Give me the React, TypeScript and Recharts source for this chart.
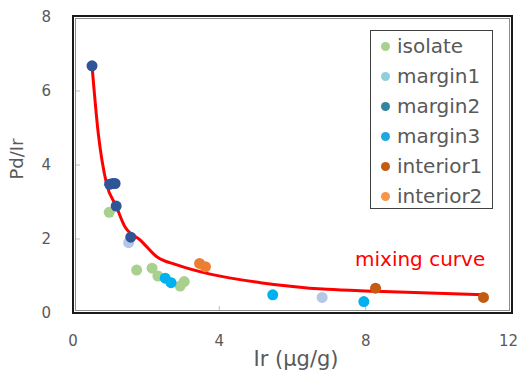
import React from 'react';
import { ComposedChart, Scatter, Line, XAxis, YAxis } from 'recharts';

// sample groups (x = Ir in ug/g, y = Pd/Ir)
const isolate = [
  { x: 0.99, y: 2.72 },
  { x: 1.74, y: 1.16 },
  { x: 2.16, y: 1.21 },
  { x: 2.32, y: 1.0 },
  { x: 2.93, y: 0.73 },
  { x: 3.04, y: 0.85 },
];
const margin1 = [
  { x: 1.52, y: 1.9 },
  { x: 6.81, y: 0.42 },
];
const margin2 = [
  { x: 0.52, y: 6.68 },
  { x: 1.0, y: 3.48 },
  { x: 1.08, y: 3.5 },
  { x: 1.15, y: 3.5 },
  { x: 1.18, y: 2.89 },
  { x: 1.58, y: 2.05 },
];
const margin3 = [
  { x: 2.52, y: 0.94 },
  { x: 2.68, y: 0.82 },
  { x: 5.46, y: 0.49 },
  { x: 7.95, y: 0.31 },
];
const interior1 = [
  { x: 8.27, y: 0.67 },
  { x: 11.22, y: 0.42 },
];
const interior2 = [
  { x: 3.46, y: 1.34 },
  { x: 3.62, y: 1.25 },
];

// red mixing curve
const mixingCurve = [
  { x: 0.52, y: 6.68 },
  { x: 0.69, y: 4.86 },
  { x: 0.92, y: 3.48 },
  { x: 1.18, y: 2.89 },
  { x: 1.42, y: 2.33 },
  { x: 1.84, y: 1.97 },
  { x: 2.29, y: 1.52 },
  { x: 2.84, y: 1.3 },
  { x: 3.75, y: 1.05 },
  { x: 5.12, y: 0.82 },
  { x: 6.95, y: 0.64 },
  { x: 8.27, y: 0.59 },
  { x: 11.22, y: 0.49 },
];

const xTicks = [0, 4, 8, 12];
const yTicks = [0, 2, 4, 6, 8];

const legendNames = ['isolate', 'margin1', 'margin2', 'margin3', 'interior1', 'interior2'];
const legendColors = ['#A9D18E', '#92CDDC', '#31859C', '#1FA8E0', '#C55A11', '#F79646'];

const W = 519;
const H = 371;
const Y_AXIS_W = 73;
const X_AXIS_H = 58;
const TOP = 17;
const RIGHT = 7;

const FONT = '"DejaVu Sans", sans-serif';
const GREY = '#595959';

const dot = (color: string) => (p: any) => (
  <circle cx={p.cx} cy={p.cy} r={5.5} fill={color} />
);

const tickStyle = { fontSize: 15, fill: GREY, fontFamily: FONT };

// x tick label; the last one sits at the page edge, so keep it inside the window
const XTick = (p: any) => {
  const label = String(p.payload.value);
  const half = label.length * 15 * 0.318;
  const x = Math.min(p.x, W - half - 1);
  return (
    <text x={x} y={p.y} dy="0.71em" textAnchor="middle" fontSize={15} fill={GREY} fontFamily={FONT}>
      {label}
    </text>
  );
};

export default function App() {
  const plotLeft = Y_AXIS_W;
  const plotTop = TOP;
  const plotW = W - Y_AXIS_W - RIGHT;
  const plotH = H - TOP - X_AXIS_H;

  return (
    <div style={{ position: 'absolute', left: 0, top: 0, width: W, height: H, background: '#fff', fontFamily: FONT }}>
      <ComposedChart width={W} height={H} margin={{ top: TOP, right: RIGHT, bottom: 0, left: 0 }}>
        <XAxis
          type="number"
          dataKey="x"
          domain={[0, 12]}
          ticks={xTicks}
          height={X_AXIS_H}
          axisLine={false}
          tickSize={-7}
          tickMargin={29}
          tickLine={{ stroke: '#bfbfbf' }}
          tick={<XTick />}
          interval={0}
        />
        <YAxis
          type="number"
          dataKey="y"
          domain={[0, 8]}
          ticks={yTicks}
          width={Y_AXIS_W}
          axisLine={false}
          tickSize={-7}
          tickMargin={29}
          tickLine={{ stroke: '#bfbfbf' }}
          tick={tickStyle}
          interval={0}
        />
        <Line
          data={mixingCurve}
          dataKey="y"
          type="monotone"
          stroke="#FF0000"
          strokeWidth={3}
          dot={false}
          isAnimationActive={false}
        />
        <Scatter name="isolate" data={isolate} fill="#A9D18E" shape={dot('#A9D18E')} isAnimationActive={false} />
        <Scatter name="margin1" data={margin1} fill="#B4C7E7" shape={dot('#B4C7E7')} isAnimationActive={false} />
        <Scatter name="margin3" data={margin3} fill="#00B0F0" shape={dot('#00B0F0')} isAnimationActive={false} />
        <Scatter name="margin2" data={margin2} fill="#2F5597" shape={dot('#2F5597')} isAnimationActive={false} />
        <Scatter name="interior1" data={interior1} fill="#C55A11" shape={dot('#C55A11')} isAnimationActive={false} />
        <Scatter name="interior2" data={interior2} fill="#ED7D31" shape={dot('#ED7D31')} isAnimationActive={false} />
      </ComposedChart>

      {/* plot frame: dark outer line + thin grey inner line */}
      <div
        style={{
          position: 'absolute',
          left: plotLeft - 1,
          top: plotTop - 2,
          width: plotW + 2,
          height: plotH + 3,
          boxSizing: 'border-box',
          border: '2px solid #1a1a1a',
          boxShadow: 'inset 0 0 0 1px #fff, inset 0 0 0 2px #8c8c8c',
          pointerEvents: 'none',
        }}
      />

      {/* legend */}
      <div
        style={{
          position: 'absolute',
          left: 370,
          top: 30,
          width: 123,
          height: 179,
          boxSizing: 'border-box',
          border: '1px solid #404040',
          background: '#fff',
        }}
      >
        {legendNames.map((name, i) => (
          <div
            key={name}
            style={{ display: 'flex', alignItems: 'center', height: 30, paddingLeft: 10, fontSize: 20, color: GREY }}
          >
            <span
              style={{
                display: 'inline-block',
                width: 9,
                height: 9,
                borderRadius: '50%',
                background: legendColors[i],
                marginRight: 7,
              }}
            />
            <span style={{ lineHeight: '30px' }}>{name}</span>
          </div>
        ))}
      </div>

      <div style={{ position: 'absolute', left: 355, top: 249, fontSize: 20, lineHeight: 1, color: '#FF0000' }}>
        mixing curve
      </div>

      <div
        style={{
          position: 'absolute',
          left: 196,
          top: 349,
          width: 200,
          textAlign: 'center',
          fontSize: 21,
          lineHeight: 1,
          color: GREY,
        }}
      >
        Ir (μg/g)
      </div>

      <div
        style={{
          position: 'absolute',
          left: -33,
          top: 149,
          width: 100,
          height: 20,
          lineHeight: '20px',
          textAlign: 'center',
          fontSize: 18,
          color: GREY,
          transform: 'rotate(-90deg)',
        }}
      >
        Pd/Ir
      </div>
    </div>
  );
}
